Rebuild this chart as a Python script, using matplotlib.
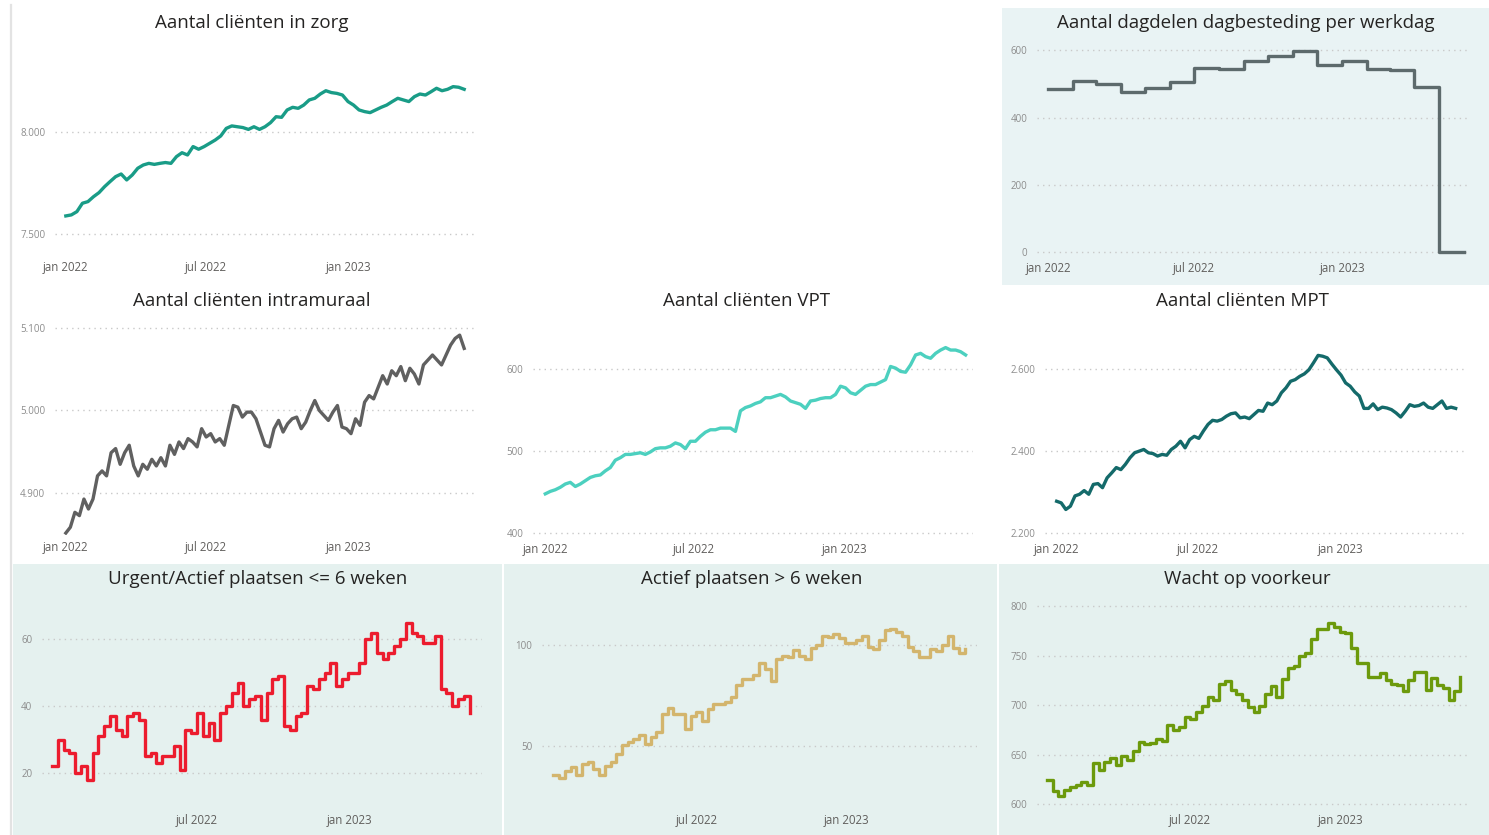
import numpy as np
import pandas as pd
import matplotlib
matplotlib.use("Agg")
import matplotlib.pyplot as plt
from matplotlib.patches import Rectangle
from matplotlib.lines import Line2D
from matplotlib.ticker import FuncFormatter

plt.rcParams['font.family'] = ['Open Sans', 'DejaVu Sans']

W, H = 1489, 835

# --- data ---
zorg = [7588, 7593, 7609, 7650, 7658, 7682, 7702, 7731, 7756, 7780, 7793, 7764, 7788, 7821,
        7837, 7845, 7840, 7845, 7849, 7845, 7878, 7897, 7886, 7927, 7914, 7927, 7943, 7959,
        7979, 8016, 8028, 8024, 8020, 8011, 8024, 8011, 8024, 8044, 8073, 8070, 8106, 8119,
        8114, 8130, 8155, 8163, 8184, 8200, 8191, 8187, 8179, 8147, 8130, 8106, 8098, 8093,
        8106, 8119, 8130, 8147, 8163, 8155, 8147, 8171, 8184, 8179, 8195, 8212, 8200, 8207,
        8220, 8217, 8207]

dagdelen = [484, 508, 500, 475, 488, 504, 547, 543, 569, 583, 598, 555, 569, 544, 540, 491, 0]

intramuraal = [4852, 4859, 4877, 4873, 4893, 4881, 4893, 4921, 4927, 4921, 4949, 4954, 4935,
               4949, 4958, 4933, 4921, 4935, 4929, 4941, 4933, 4943, 4933, 4958, 4947, 4962,
               4954, 4966, 4962, 4956, 4978, 4968, 4972, 4962, 4966, 4958, 4982, 5006, 5004,
               4992, 4998, 4998, 4990, 4974, 4958, 4956, 4978, 4988, 4974, 4984, 4990, 4992,
               4978, 4986, 5000, 5012, 5000, 4994, 4988, 4998, 5006, 4980, 4978, 4972, 4990,
               4982, 5010, 5018, 5014, 5028, 5042, 5032, 5048, 5042, 5053, 5036, 5051, 5044,
               5032, 5055, 5061, 5067, 5061, 5055, 5067, 5079, 5087, 5091, 5075]

vpt = [448, 451, 453, 456, 460, 462, 457, 460, 464, 468, 470, 471, 476, 480, 489, 492, 496,
       496, 497, 498, 496, 499, 503, 504, 504, 506, 510, 508, 503, 512, 512, 518, 523, 526,
       526, 528, 528, 528, 524, 549, 553, 555, 558, 560, 565, 565, 567, 569, 566, 561, 559,
       557, 552, 561, 562, 564, 565, 565, 569, 579, 577, 571, 569, 574, 579, 581, 581, 584,
       587, 603, 601, 597, 596, 605, 617, 619, 615, 613, 619, 623, 626, 623, 623, 621, 617]

mpt = [2278, 2274, 2258, 2266, 2291, 2295, 2304, 2295, 2319, 2321, 2311, 2335, 2347, 2360,
       2355, 2368, 2384, 2396, 2400, 2404, 2396, 2394, 2388, 2392, 2390, 2404, 2412, 2424,
       2408, 2428, 2436, 2431, 2449, 2465, 2475, 2473, 2477, 2485, 2491, 2493, 2481, 2483,
       2479, 2489, 2499, 2497, 2517, 2513, 2522, 2542, 2554, 2570, 2574, 2582, 2588, 2598,
       2615, 2633, 2631, 2627, 2612, 2598, 2585, 2566, 2558, 2544, 2534, 2504, 2504, 2515,
       2501, 2507, 2505, 2501, 2493, 2483, 2497, 2513, 2509, 2511, 2517, 2507, 2504, 2513,
       2522, 2504, 2507, 2504]

urgent = [22, 30, 27, 26, 20, 22, 18, 26, 31, 34, 37, 33, 31, 37, 38, 36, 25, 26, 23, 25,
          25, 28, 21, 33, 32, 38, 31, 35, 30, 38, 40, 44, 47, 40, 42, 43, 36, 44, 48, 49,
          34, 33, 37, 38, 46, 45, 48, 50, 53, 46, 48, 50, 50, 53, 60, 62, 56, 54, 56, 58,
          60, 65, 62, 61, 59, 59, 61, 45, 44, 40, 42, 43, 38]

actief = [35.6, 34.3, 38, 40, 35.6, 41.4, 42.2, 38.6, 35.6, 40.3, 42.2, 46.4, 50.5, 52.1,
          53.8, 55.8, 51.3, 54.6, 57.1, 66.2, 69, 66.2, 66.2, 58.7, 65, 67, 62.4, 68.6, 71.1,
          71.1, 72, 74.4, 80.2, 83.2, 83.2, 85.5, 91.4, 88.4, 82.2, 93.4, 94.7, 94.2, 97.5,
          94.7, 93.4, 98.7, 100, 104.6, 104.1, 105.8, 103.6, 101.3, 101.3, 102.5, 104.6,
          99.2, 98, 102.5, 107.4, 107.9, 106.6, 104.6, 99.2, 97, 94.2, 94.2, 98, 97, 100,
          104.6, 98.7, 96.4, 98.4]

wacht = [625, 613, 608, 614, 617, 619, 623, 619, 642, 635, 643, 647, 640, 649, 645, 654,
         663, 661, 662, 666, 664, 680, 675, 678, 688, 686, 693, 699, 708, 705, 721, 724,
         715, 711, 705, 698, 693, 699, 711, 719, 708, 726, 737, 739, 750, 753, 767, 777,
         777, 783, 779, 774, 773, 758, 742, 742, 728, 728, 732, 725, 721, 720, 714, 725,
         733, 733, 715, 727, 720, 717, 705, 714, 728]

ticks_full = ['2022-01-01', '2022-07-01', '2023-01-01']
labels_full = ['jan 2022', 'jul 2022', 'jan 2023']
ticks_half = ['2022-07-01', '2023-01-01']
labels_half = ['jul 2022', 'jan 2023']

fig = plt.figure(figsize=(W / 100, H / 100), dpi=100)


def px_box(l, t, r, b):
    return [l / W, 1 - b / H, (r - l) / W, (b - t) / H]


def dutch(v, pos):
    return f"{int(round(v)):,}".replace(",", ".")


# panel backgrounds
for (l, t, r, b), c in [((1002, 8, 1489, 285), '#e9f3f4'),
                        ((13, 564, 502, 835), '#e5f1ef'),
                        ((504, 564, 997, 835), '#e5f1ef'),
                        ((999, 564, 1489, 835), '#e5f1ef')]:
    fig.add_artist(Rectangle((l / W, 1 - b / H), (r - l) / W, (b - t) / H,
                             transform=fig.transFigure, facecolor=c, edgecolor='none', zorder=0))
fig.add_artist(Line2D([11 / W, 11 / W], [0, 1 - 5 / H], transform=fig.transFigure,
                      color='#e3e3e3', lw=1.6))


def panel(box, title, tx, ty, x, y, color, yticks, ylim, xlim, xticks, xlabels, steps=False):
    ax = fig.add_axes(px_box(*box))
    ax.set_facecolor('none')
    ax.plot(x, y, color=color, lw=2.4, drawstyle='steps-post' if steps else 'default',
            solid_joinstyle='round')
    ax.set_ylim(*ylim)
    ax.set_xlim(np.datetime64(xlim[0]), np.datetime64(xlim[1]))
    ax.set_yticks(yticks)
    ax.yaxis.set_major_formatter(FuncFormatter(dutch))
    ax.set_xticks(np.array(xticks, dtype='datetime64[D]'), labels=xlabels)
    for s in ax.spines.values():
        s.set_visible(False)
    ax.grid(axis='y', color='#c9c9c9', linestyle=(0, (1, 3)), lw=1)
    ax.tick_params(axis='both', length=0)
    ax.tick_params(axis='y', labelsize=7, labelcolor='#8c8c8c', pad=7)
    ax.tick_params(axis='x', labelsize=8.3, labelcolor='#605e5c', pad=4)
    fig.text(tx / W, 1 - ty / H, title, ha='center', va='center', fontsize=13.5, color='#252423')
    return ax


d_zorg = pd.date_range('2022-01-01', '2023-05-31', periods=len(zorg))
panel((55, 40, 475, 255), 'Aantal cliënten in zorg', 252, 23, d_zorg, zorg, '#199c87',
      [7500, 8000], (7397, 8448), ('2021-12-18', '2023-06-14'), ticks_full, labels_full)

d_dag = pd.date_range('2022-01-01', '2023-06-01', freq='MS')
panel((1037, 40, 1470, 256), 'Aantal dagdelen dagbesteding per werkdag', 1246, 23,
      d_dag, np.append(dagdelen, dagdelen[-1]), '#5d6a6c',
      [0, 200, 400, 600], (-11, 630), ('2021-12-18', '2023-06-09'), ticks_full, labels_full,
      steps=True)

d_intra = pd.date_range('2022-01-01', '2023-05-31', periods=len(intramuraal))
panel((55, 318, 475, 535), 'Aantal cliënten intramuraal', 252, 301, d_intra, intramuraal,
      '#606060', [4900, 5000, 5100], (4849.6, 5111.7), ('2021-12-18', '2023-06-14'),
      ticks_full, labels_full)

d_vpt = pd.date_range('2022-01-01', '2023-05-29', periods=len(vpt))
panel((533, 318, 973, 537), 'Aantal cliënten VPT', 747, 301, d_vpt, vpt, '#4cd0bf',
      [400, 500, 600], (395.5, 662), ('2021-12-17', '2023-06-07'), ticks_full, labels_full)

d_mpt = pd.date_range('2022-01-01', '2023-05-30', periods=len(mpt))
panel((1045, 318, 1465, 537), 'Aantal cliënten MPT', 1243, 301, d_mpt, mpt, '#146a6a',
      [2200, 2400, 2600], (2191, 2724), ('2021-12-17', '2023-06-11'), ticks_full, labels_full)

d_urg = pd.date_range('2022-01-07', periods=len(urgent), freq='7D')
panel((42, 595, 482, 808), 'Urgent/Actief plaatsen <= 6 weken', 258, 579, d_urg, urgent,
      '#ec1c2e', [20, 40, 60], (9.5, 73.3), ('2021-12-26', '2023-06-10'), ticks_half,
      labels_half, steps=True)

d_act = pd.date_range('2022-01-07', periods=len(actief), freq='7D')
panel((542, 595, 977, 808), 'Actief plaatsen > 6 weken', 752, 579, d_act, actief,
      '#d3b56d', [50, 100], (19.5, 124.9), ('2021-12-24', '2023-06-10'), ticks_half,
      labels_half, steps=True)

d_wacht = pd.date_range('2022-01-08', periods=len(wacht), freq='7D')
panel((1037, 595, 1470, 808), 'Wacht op voorkeur', 1247, 579, d_wacht, wacht, '#6c9a0c',
      [600, 650, 700, 750, 800], (596.3, 811), ('2021-12-27', '2023-06-08'), ticks_half,
      labels_half, steps=True)

fig.savefig('out.png', dpi=100)
